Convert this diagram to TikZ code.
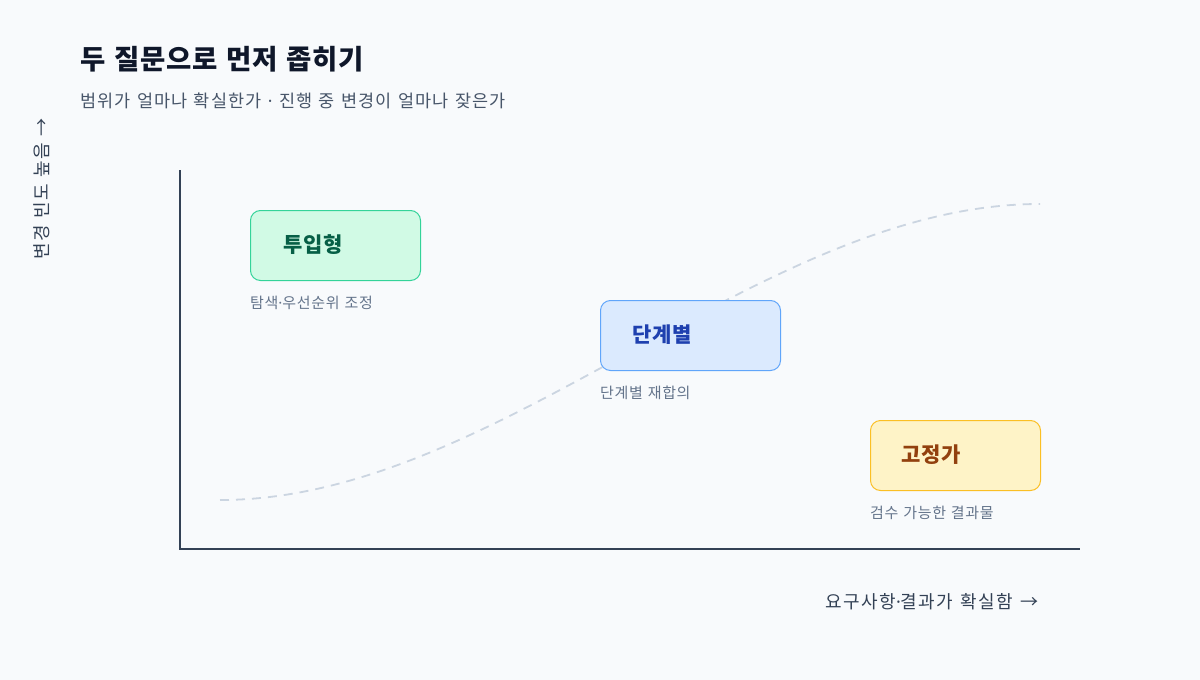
\documentclass[tikz,border=0pt]{standalone}
\usepackage{fontspec}
\setmainfont{Noto Sans CJK KR}
\newfontfamily\krT{Noto Sans CJK KR}[LetterSpace=3, WordSpace=1.3]
\newfontfamily\krA{Noto Sans CJK KR}[LetterSpace=6, WordSpace=1.3]
\newfontfamily\krB{Noto Sans CJK KR}[LetterSpace=6, WordSpace=1.3]
\newfontfamily\krX{Noto Sans CJK KR}[LetterSpace=7.5, WordSpace=1.4]
\newfontfamily\krC{Noto Sans CJK KR}[LetterSpace=3, WordSpace=1.2]
\newfontfamily\krD{Noto Sans CJK KR}[LetterSpace=4.5, WordSpace=1.2]
\newfontfamily\dotfont{Noto Sans}
\newcommand{\mdot}{{\dotfont ·}}
\definecolor{bgc}{HTML}{F8FAFC}
\definecolor{titlec}{HTML}{0F172A}
\definecolor{subc}{HTML}{475569}
\definecolor{axisc}{HTML}{334155}
\definecolor{curvec}{HTML}{CBD5E1}
\definecolor{capc}{HTML}{64748B}
\definecolor{gfill}{HTML}{D1FAE5}
\definecolor{gline}{HTML}{34D399}
\definecolor{gtext}{HTML}{065F46}
\definecolor{bfill}{HTML}{DBEAFE}
\definecolor{bline}{HTML}{60A5FA}
\definecolor{btext}{HTML}{1E40AF}
\definecolor{afill}{HTML}{FEF3C7}
\definecolor{aline}{HTML}{FBBF24}
\definecolor{atext}{HTML}{92400E}
\begin{document}
\begin{tikzpicture}[x=1pt,y=-1pt,
  txt/.style={inner sep=0pt, anchor=west},
  catbox/.style={draw, line width=1pt, rounded corners=10pt, minimum width=170pt, minimum height=70pt, anchor=north west, inner sep=0pt},
  catlabel/.style={txt, font=\krC\fontsize{21}{24}\selectfont\bfseries},
  caption/.style={txt, text=capc, font=\krD\fontsize{15}{18}\selectfont},
  axislabel/.style={inner sep=0pt, text=axisc, font=\krB\fontsize{18}{20}\selectfont},
  axisline/.style={draw=axisc, line width=2.6pt},
  trend/.style={draw=curvec, line width=1.8pt, dash pattern=on 9pt off 7pt}
]
\useasboundingbox (0,0) rectangle (1200,680);
\fill[bgc] (0,0) rectangle (1200,680);

% title
\node[txt, text=titlec, font=\krT\fontsize{27.5}{30}\selectfont\bfseries] (title) at (80,59) {두 질문으로 먼저 좁히기};
\node[txt, text=subc, font=\krA\fontsize{17.5}{20}\selectfont] (subtitle) at (80,101) {범위가 얼마나 확실한가 \mdot{} 진행 중 변경이 얼마나 잦은가};

% trend curve
\coordinate (c0) at (220,500);
\coordinate (c1) at (1040,204);
\draw[trend] (c0) .. controls (500,500) and (760,204) .. (c1);

% axes
\coordinate (origin) at (180,549);
\coordinate (ytop) at (180,170);
\coordinate (xend) at (1080,549);
\draw[axisline] (ytop) -- (origin) -- (xend);

% axis labels
\node[axislabel, rotate=90] (ylab) at (42,189) {변경 빈도 높음 →};
\node[axislabel, font=\krX\fontsize{18}{20}\selectfont, anchor=east] (xlab) at (1039,602) {요구사항\mdot{}결과가 확실함 →};

% boxes
\node[catbox, fill=gfill, draw=gline] (b1) at (250,210) {};
\node[catlabel, text=gtext] (l1) at (283,245) {투입형};
\node[caption] (c1t) at (250,303) {탐색\mdot{}우선순위 조정};

\node[catbox, fill=bfill, draw=bline, minimum width=180pt] (b2) at (600,300) {};
\node[catlabel, text=btext] (l2) at (632,335) {단계별};
\node[caption] (c2t) at (600,393) {단계별 재합의};

\node[catbox, fill=afill, draw=aline] (b3) at (870,420) {};
\node[catlabel, text=atext] (l3) at (901,455) {고정가};
\node[caption] (c3t) at (870,513) {검수 가능한 결과물};
\end{tikzpicture}
\end{document}
